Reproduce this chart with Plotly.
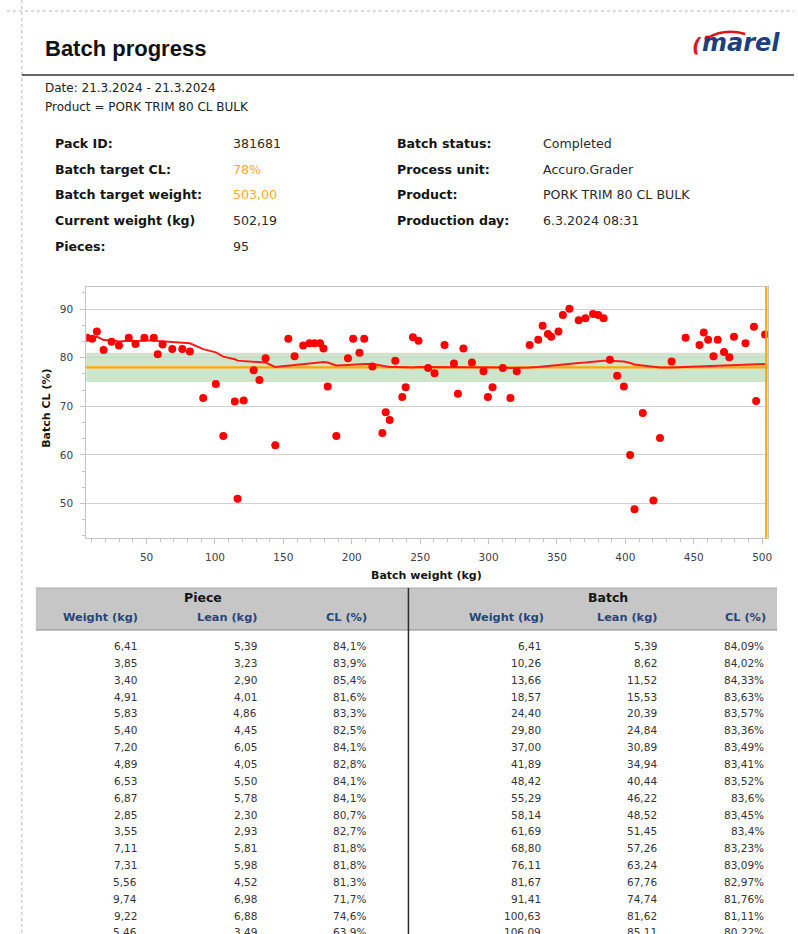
import plotly.graph_objects as go

# ---------------- data ----------------
batch_weight = [6.41, 10.26, 13.66, 18.57, 24.40, 29.80, 37.00, 41.89, 48.42, 55.29,
                58.14, 61.69, 68.80, 76.11, 81.67, 91.41, 100.63, 106.09,
                114.5, 116.5, 121.0,
                128.3, 132.5, 137.0, 144.1, 153.6, 158.2, 164.5, 169.1, 172.7, 176.8,
                179.3, 182.4, 188.7, 197.2, 201.0, 205.6, 209.1, 215.1, 222.4, 224.8,
                227.7, 231.8, 236.9, 239.4, 244.7, 248.8, 255.8,
                260.5, 267.8, 274.7, 277.6, 281.6, 287.8, 296.3, 299.5, 302.9, 310.4,
                316.0, 320.6, 330.0, 336.3, 339.5, 343.4, 345.8, 351.1, 354.3, 359.1,
                365.9, 370.8, 376.4, 380.2, 384.1,
                388.7, 394.0, 398.9, 403.5, 406.7, 412.7, 420.5, 425.3,
                433.8, 444.0, 454.2, 457.3, 460.5, 464.4, 467.5, 472.1, 476.0, 479.4,
                487.8, 494.0, 495.6, 502.19]

piece_cl = [84.1, 83.9, 85.4, 81.6, 83.3, 82.5, 84.1, 82.8, 84.1, 84.1,
            80.7, 82.7, 81.8, 81.8, 81.3, 71.7, 74.6, 63.9,
            71.0, 51.0, 71.2,
            77.4, 75.4, 79.9, 62.0, 83.9, 80.3, 82.5, 83.0, 83.0, 83.0,
            81.9, 74.1, 63.9, 79.9, 83.9, 81.0, 83.9, 78.2, 64.5, 68.8,
            67.2, 79.4, 71.9, 73.9, 84.2, 83.5, 77.9,
            76.8, 82.6, 78.8, 72.6, 81.9, 79.0, 77.2, 71.9, 73.9, 77.9,
            71.7, 77.2, 82.6, 83.7, 86.6, 84.9, 84.3, 85.4, 88.8, 90.1,
            87.7, 88.1, 89.0, 88.8, 88.1,
            79.6, 76.3, 74.1, 60.0, 48.8, 68.6, 50.6, 63.5,
            79.2, 84.1, 82.6, 85.2, 83.7, 80.3, 83.7, 81.2, 80.1, 84.3,
            83.0, 86.4, 71.1, 84.8]

batch_cl = [84.09, 84.02, 84.33, 83.63, 83.57, 83.36, 83.49, 83.41, 83.52, 83.6,
            83.45, 83.4, 83.23, 83.09, 82.97, 81.76, 81.11, 80.22,
            79.7, 79.4, 79.3,
            79.2, 79.1, 79.0, 78.1, 78.4, 78.6, 78.7, 78.8, 78.9, 79.0,
            79.1, 79.0, 78.4, 78.5, 78.6, 78.7, 78.7, 78.7, 78.3, 78.2,
            78.1, 78.1, 78.0, 78.0, 78.0, 78.1, 78.1,
            78.0, 78.1, 78.1, 78.0, 78.1, 78.1, 78.1, 78.0, 78.0, 78.0,
            77.9, 77.9, 78.0, 78.1, 78.2, 78.3, 78.4, 78.5, 78.6, 78.8,
            78.9, 79.0, 79.2, 79.3, 79.4,
            79.4, 79.3, 79.2, 78.9, 78.6, 78.4, 78.1, 78.0,
            78.0, 78.1, 78.2, 78.2, 78.3, 78.3, 78.4, 78.4, 78.4, 78.5,
            78.6, 78.7, 78.6, 78.7]

target_cl = 78
tolerance_low = 75
tolerance_high = 81
target_weight = 503

x_ticks = [50, 100, 150, 200, 250, 300, 350, 400, 450, 500]
y_ticks = [50, 60, 70, 80, 90]

tbl_piece_weight = [6.41, 3.85, 3.40, 4.91, 5.83, 5.40, 7.20, 4.89, 6.53, 6.87, 2.85, 3.55,
                    7.11, 7.31, 5.56, 9.74, 9.22, 5.46]
tbl_piece_lean = [5.39, 3.23, 2.90, 4.01, 4.86, 4.45, 6.05, 4.05, 5.50, 5.78, 2.30, 2.93,
                  5.81, 5.98, 4.52, 6.98, 6.88, 3.49]
tbl_piece_cl = [84.1, 83.9, 85.4, 81.6, 83.3, 82.5, 84.1, 82.8, 84.1, 84.1, 80.7, 82.7,
                81.8, 81.8, 81.3, 71.7, 74.6, 63.9]
tbl_batch_weight = [6.41, 10.26, 13.66, 18.57, 24.40, 29.80, 37.00, 41.89, 48.42, 55.29,
                    58.14, 61.69, 68.80, 76.11, 81.67, 91.41, 100.63, 106.09]
tbl_batch_lean = [5.39, 8.62, 11.52, 15.53, 20.39, 24.84, 30.89, 34.94, 40.44, 46.22,
                  48.52, 51.45, 57.26, 63.24, 67.76, 74.74, 81.62, 85.11]
tbl_batch_cl = [84.09, 84.02, 84.33, 83.63, 83.57, 83.36, 83.49, 83.41, 83.52, 83.6,
                83.45, 83.4, 83.23, 83.09, 82.97, 81.76, 81.11, 80.22]

info_left_labels = ["Pack ID:", "Batch target CL:", "Batch target weight:", "Current weight (kg)", "Pieces:"]
info_left_values = ["381681", "78%", "503,00", "502,19", "95"]
info_right_labels = ["Batch status:", "Process unit:", "Product:", "Production day:"]
info_right_values = ["Completed", "Accuro.Grader", "PORK TRIM 80 CL BULK", "6.3.2024 08:31"]

# ---------------- layout helpers ----------------
W, H = 798, 934
def px(x):
    return x / W
def py(y):
    return 1 - y / H

FONT = "DejaVu Sans"
ORANGE = "#ffa500"
VAL_ORANGE = "#f7a83a"
NAVY = "#27467a"

annotations = []
shapes = []

def text(x, y, s, size=12, color="#222", xanchor="left", family=FONT, angle=0):
    annotations.append(dict(x=px(x), y=py(y), xref="paper", yref="paper", text=s,
                            showarrow=False, xanchor=xanchor, yanchor="middle",
                            textangle=angle,
                            font=dict(family=family, size=size, color=color)))

def line(x0, y0, x1, y1, color, width=1, dash=None):
    shapes.append(dict(type="line", xref="paper", yref="paper",
                       x0=px(x0), y0=py(y0), x1=px(x1), y1=py(y1),
                       line=dict(color=color, width=width, dash=dash), layer="above"))

# page frame
line(7, 11, 798, 11, "#b5b5b5", 1, "dot")
line(22, 0, 22, 934, "#b5b5b5", 1, "dot")
line(22, 75, 798, 75, "#333333", 1.5)

# title and logo
text(43, 49, "<b>Batch progress</b>", size=22, color="#111", family="Liberation Sans")
text(786, 43, "<b><i>marel</i></b>", size=24, color="#1c3f7d", xanchor="right")
text(701, 45, "<b><i>(</i></b>", size=20, color="#e3121b", xanchor="center")
shapes.append(dict(type="path", xref="paper", yref="paper",
                   path=f"M {px(711)},{py(38)} Q {px(728)},{py(28)} {px(749)},{py(34)}",
                   line=dict(color="#e3121b", width=2.5), layer="above"))
shapes.append(dict(type="circle", xref="paper", yref="paper",
                   x0=px(708), y0=py(41.5), x1=px(714), y1=py(35.5),
                   fillcolor="#e3121b", line=dict(width=0), layer="above"))

# filter lines
text(43, 88, "Date: 21.3.2024 - 21.3.2024", size=12, color="#222")
text(43, 107, "Product = PORK TRIM 80 CL BULK", size=12, color="#222")

# info block
rows_y = [143, 169, 194, 220, 246]
for i, (lab, val) in enumerate(zip(info_left_labels, info_left_values)):
    text(53, rows_y[i], f"<b>{lab}</b>", size=12.6, color="#151515")
    col = VAL_ORANGE if i in (1, 2) else "#2b2b2b"
    text(232, rows_y[i], val, size=12.6, color=col)
for i, (lab, val) in enumerate(zip(info_right_labels, info_right_values)):
    text(397, rows_y[i], f"<b>{lab}</b>", size=12.6, color="#151515")
    text(544, rows_y[i], val, size=12.6, color="#2b2b2b")

# ---------------- chart ----------------
PL, PR, PT, PB = 86.7, 771.7, 286.7, 538.3
x_per_px = (500 - 50) / (766.0 - 147.3)
x_lo = 50 - (147.3 - PL) * x_per_px
x_hi = 500 + (PR - 766.0) * x_per_px
y_per_px = 10 / 48.3
y_lo = 50 - (PB - 503.7) * y_per_px
y_hi = 90 + (309.0 - PT) * y_per_px

# tolerance band and target lines
shapes.append(dict(type="rect", xref="x domain", yref="y", x0=0, x1=1,
                   y0=tolerance_low, y1=tolerance_high, fillcolor="#cde6cb",
                   line=dict(width=0), layer="below"))
shapes.append(dict(type="line", xref="x domain", yref="y", x0=0, x1=1,
                   y0=target_cl, y1=target_cl, line=dict(color=ORANGE, width=2.2),
                   layer="below"))
shapes.append(dict(type="line", xref="x", yref="y domain", x0=target_weight, x1=target_weight,
                   y0=0, y1=1, line=dict(color=ORANGE, width=2.2), layer="above"))

fig = go.Figure()
fig.add_trace(go.Scatter(x=batch_weight, y=batch_cl, mode="lines",
                         line=dict(color="#ff1a1a", width=2), hoverinfo="skip",
                         showlegend=False))
fig.add_trace(go.Scatter(x=batch_weight, y=piece_cl, mode="markers",
                         marker=dict(color="#ff0000", size=8, line=dict(width=0)),
                         showlegend=False))

axis_common = dict(showline=True, linecolor="#c4c4c4", linewidth=1, mirror=True,
                   ticks="outside", ticklen=5, tickcolor="#c4c4c4",
                   tickfont=dict(family=FONT, size=10.5, color="#404048"),
                   zeroline=False)

fig.update_xaxes(range=[x_lo, x_hi], domain=[px(PL), px(PR)], tickvals=x_ticks,
                 showgrid=False, ticklabelstandoff=4,
                 minor=dict(ticks="outside", ticklen=3, tickcolor="#c4c4c4",
                            tick0=0, dtick=10, showgrid=False),
                 **axis_common)
fig.update_yaxes(range=[y_lo, y_hi], domain=[py(PB), py(PT)], tickvals=y_ticks,
                 showgrid=True, gridcolor="#d2d2d2", gridwidth=1, ticklabelstandoff=5,
                 minor=dict(ticks="outside", ticklen=3, tickcolor="#c4c4c4",
                            tick0=50, dtick=10 / 3, showgrid=False),
                 **axis_common)

# axis titles
text(429, 575, "<b>Batch weight (kg)</b>", size=11, color="#151515", xanchor="center")
annotations.append(dict(x=px(47), y=py(408), xref="paper", yref="paper",
                        text="<b>Batch CL (%)</b>", showarrow=False, textangle=-90,
                        xanchor="center", yanchor="middle",
                        font=dict(family=FONT, size=11, color="#151515")))

# ---------------- table ----------------
shapes.append(dict(type="rect", xref="paper", yref="paper", x0=px(36), x1=px(781),
                   y0=py(630), y1=py(588), fillcolor="#c6c6c6",
                   line=dict(width=0), layer="below"))
line(36, 588, 781, 588, "#a8a8a8", 1)
line(36, 630, 781, 630, "#8a8a8a", 1)
line(410.5, 588, 410.5, 934, "#2a2a2a", 1.5)

text(204, 597.5, "<b>Piece</b>", size=12.5, color="#151515", xanchor="center")
text(611, 597.5, "<b>Batch</b>", size=12.5, color="#151515", xanchor="center")
sub_heads = ["Weight (kg)", "Lean (kg)", "CL (%)"]
head_right_piece = [141, 260, 371]
head_right_batch = [548.5, 662, 772]
for s, xr in zip(sub_heads, head_right_piece):
    text(xr, 617.5, f"<b>{s}</b>", size=11.3, color=NAVY, xanchor="right")
for s, xr in zip(sub_heads, head_right_batch):
    text(xr, 617.5, f"<b>{s}</b>", size=11.3, color=NAVY, xanchor="right")

def f2(v):
    return f"{v:.2f}".replace(".", ",")
def f1p(v):
    return f"{v:.1f}".replace(".", ",") + "%"
def ftrim(v):
    s = f"{v:.2f}".rstrip("0").rstrip(".")
    return s.replace(".", ",") + "%"

col_right_piece = [139.5, 260, 369.5]
col_right_batch = [545.5, 662.5, 769.5]
for i in range(len(tbl_piece_weight)):
    yy = 646 + i * 16.85
    vals_p = [f2(tbl_piece_weight[i]), f2(tbl_piece_lean[i]), f1p(tbl_piece_cl[i])]
    vals_b = [f2(tbl_batch_weight[i]), f2(tbl_batch_lean[i]), ftrim(tbl_batch_cl[i])]
    for v, xr in zip(vals_p, col_right_piece):
        text(xr, yy, v, size=10.5, color="#333338", xanchor="right")
    for v, xr in zip(vals_b, col_right_batch):
        text(xr, yy, v, size=10.5, color="#333338", xanchor="right")

fig.update_layout(width=W, height=H, margin=dict(l=0, r=0, t=0, b=0),
                  paper_bgcolor="white", plot_bgcolor="white",
                  annotations=annotations, shapes=shapes, showlegend=False)

fig.write_html("out.html", config={"displayModeBar": False},
               post_script="document.body.style.margin='0';document.body.style.overflow='hidden';")
